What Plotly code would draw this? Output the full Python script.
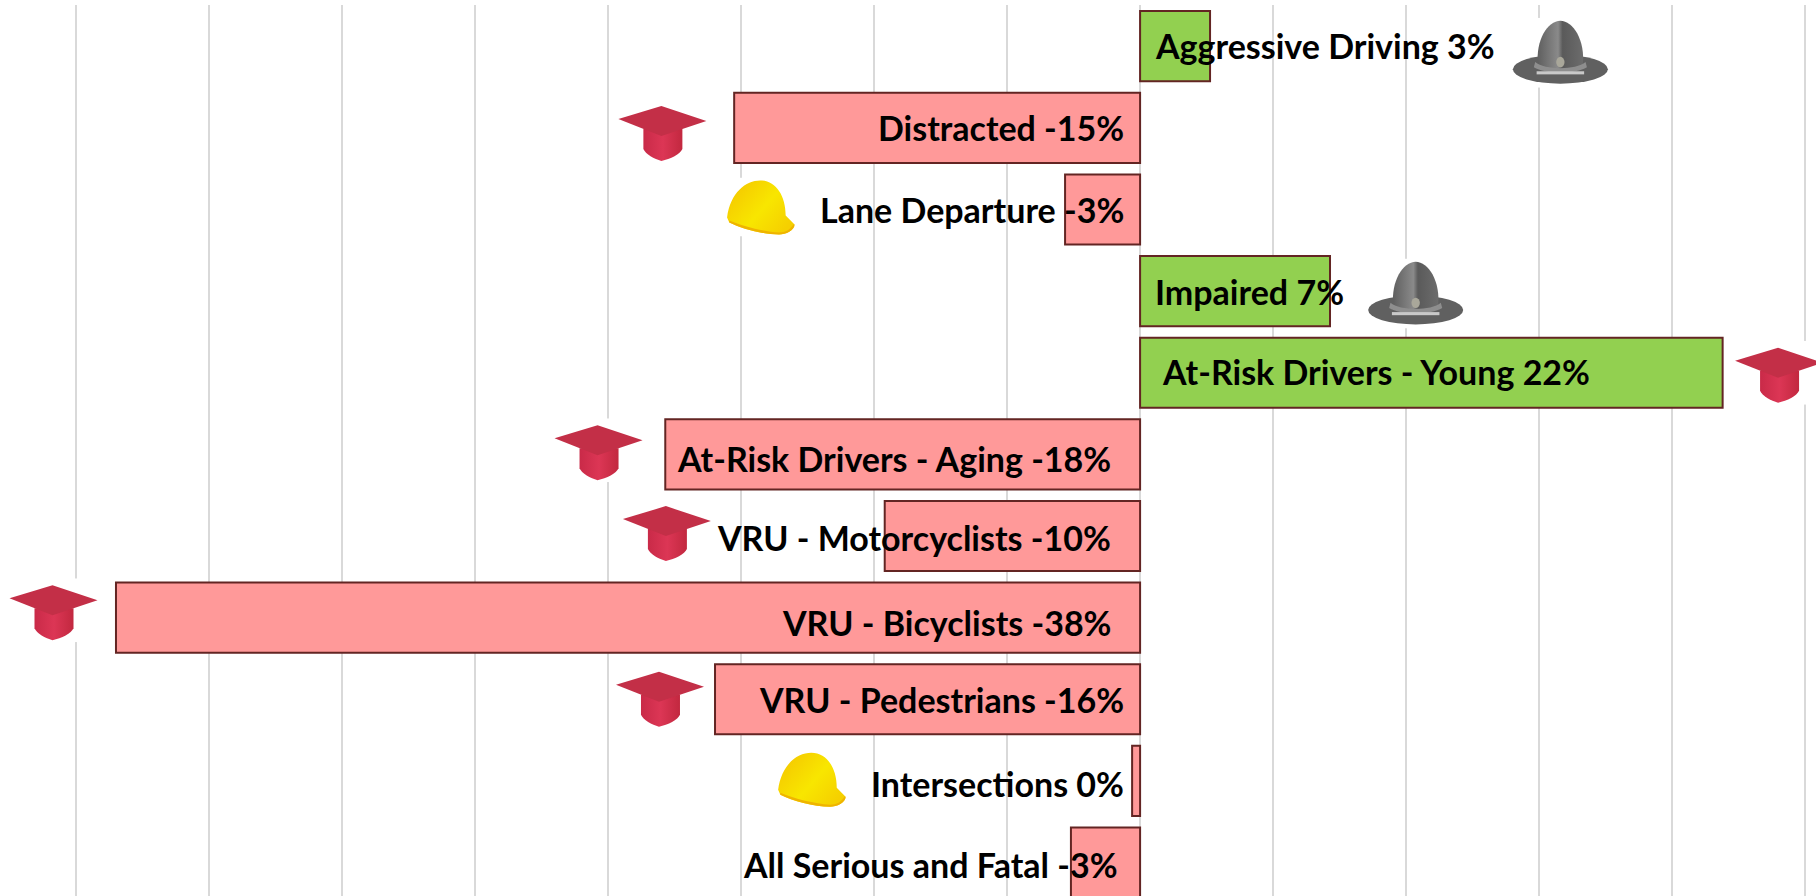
import base64
import plotly.graph_objects as go

categories = ["Aggressive Driving", "Distracted", "Lane Departure", "Impaired",
              "At-Risk Drivers - Young", "At-Risk Drivers - Aging", "VRU - Motorcyclists",
              "VRU - Bicyclists", "VRU - Pedestrians", "Intersections", "All Serious and Fatal"]
bar_values = [2.63, -15.26, -2.82, 7.14, 21.9, -17.85, -9.6, -38.5, -15.98, -0.3, -2.6]
label_values = [3, -15, -3, 7, 22, -18, -10, -38, -16, 0, -3]
label_x = [0.47, -0.54, -0.54, 0.47, 0.73, -1.0, -1.0, -1.0, -0.54, -0.54, -0.76]
label_shift = [1.0, 0.0, 0.0, 0.0, 1.0, -4.3, -1.0, -4.8, 0.0, -2.5, -1.5]

cap_x = [-17.94, 24.04, -20.34, -17.77, -40.83, -18.03]
cap_y = [1.04, 4.0, 4.95, 5.94, 6.91, 7.97]
hardhat_x = [-14.28, -12.36]
hardhat_y = [1.97, 8.98]
trooper_x = [15.8, 10.36]
trooper_y = [0.08, 3.03]

PX_PER_X = 26.6
PX_PER_ROW = 81.63

CAP = """<svg xmlns="http://www.w3.org/2000/svg" width="97" height="64" viewBox="0 0 97 64">
<defs><linearGradient id="a" x1="0" x2="1" y1="0" y2="0"><stop offset="0" stop-color="#c92a48"/><stop offset=".5" stop-color="#dc3655"/><stop offset="1" stop-color="#c2283f"/></linearGradient></defs>
<rect width="97" height="64" fill="#fff"/>
<path d="M29 30 L68 30 L68 50 C66 55 56 60 47 62 C40 60 31 55 29 50 Z" fill="url(#a)"/>
<path d="M4 20 L47 7 L92 22 L47 37 Z" fill="#c32f47"/>
</svg>"""

HARDHAT = """<svg xmlns="http://www.w3.org/2000/svg" width="66" height="59" viewBox="0 0 66 59">
<defs><linearGradient id="b" x1="0" x2="1" y1="0" y2=".7"><stop offset="0" stop-color="#f4c200"/><stop offset=".6" stop-color="#f8e600"/><stop offset="1" stop-color="#f5d000"/></linearGradient></defs>
<rect width="66" height="59" fill="#fff"/>
<path d="M3 40 C6 15 20 3 33 3 C47 3 56 18 56 38 L64 47 C64 53 56 57 50 57 C35 57 16 51 5 45 Z" fill="url(#b)"/>
<path d="M5 43 C18 49 36 54 50 55 C56 55 60 52 63 47 L64 47 C64 53 56 57 50 57 C35 57 16 51 5 45 Z" fill="#efb400"/>
</svg>"""

TROOPER = """<svg xmlns="http://www.w3.org/2000/svg" width="78" height="68" viewBox="0 0 78 68">
<defs><linearGradient id="c" x1="0" x2="1" y1="0" y2="0"><stop offset="0" stop-color="#5f5f5f"/><stop offset=".45" stop-color="#8a8a8a"/><stop offset=".55" stop-color="#5a5a5a"/><stop offset="1" stop-color="#6c6c6c"/></linearGradient></defs>
<rect width="78" height="68" fill="#fff"/>
<ellipse cx="39" cy="50" rx="34" ry="14" fill="#606060"/>
<path d="M23 46 C21 22 30 3 39 3 C48 3 57 22 55 46 C50 52 28 52 23 46 Z" fill="url(#c)"/>
<path d="M21 43 C28 51 50 51 57 43 L58 48 C50 55 28 55 20 48 Z" fill="#8e8e8e"/>
<ellipse cx="39" cy="43" rx="3" ry="5" fill="#a9a79a"/>
<rect x="22" y="52" width="34" height="3" fill="#c9c9c9"/>
</svg>"""


def uri(svg):
    return "data:image/svg+xml;base64," + base64.b64encode(svg.encode()).decode()


def place(svg, xs, ys, w, h):
    return [dict(source=uri(svg), xref="x", yref="y", x=x, y=y,
                 sizex=w / PX_PER_X, sizey=h / PX_PER_ROW, sizing="stretch",
                 xanchor="center", yanchor="middle", layer="above")
            for x, y in zip(xs, ys)]


fig = go.Figure()
fig.add_trace(go.Bar(
    y=categories, x=bar_values, orientation="h", width=0.86,
    marker=dict(color=["#92D050" if v > 0 else "#FF9999" for v in bar_values],
                line=dict(color="#632523", width=2)),
    hoverinfo="skip", showlegend=False))

annotations = [
    dict(x=lx, y=c, xref="x", yref="y", yshift=s, showarrow=False,
         text=f"{c} {v}%", xanchor="left" if b > 0 else "right", yanchor="middle",
         font=dict(family="Lato", size=34, color="#000000", weight=700))
    for c, v, b, lx, s in zip(categories, label_values, bar_values, label_x, label_shift)
]

fig.update_layout(
    width=1816, height=896,
    margin=dict(l=0, r=0, t=5, b=0, pad=0),
    paper_bgcolor="#ffffff", plot_bgcolor="#ffffff",
    showlegend=False,
    annotations=annotations,
    xaxis=dict(range=[-42.86, 25.41], tick0=0, dtick=5, showgrid=True,
               gridcolor="#D9D9D9", gridwidth=2, zeroline=False,
               showticklabels=False, ticks="", showline=False),
    yaxis=dict(type="category", categoryorder="array", categoryarray=categories,
               range=[10.41, -0.505], showgrid=False, zeroline=False,
               showticklabels=False, ticks="", showline=False),
    images=place(CAP, cap_x, cap_y, 97, 64)
    + place(HARDHAT, hardhat_x, hardhat_y, 73, 59)
    + place(TROOPER, trooper_x, trooper_y, 109, 70),
)

fig.write_html("out.html", config={"displayModeBar": False},
               post_script="document.body.style.margin='0';")
